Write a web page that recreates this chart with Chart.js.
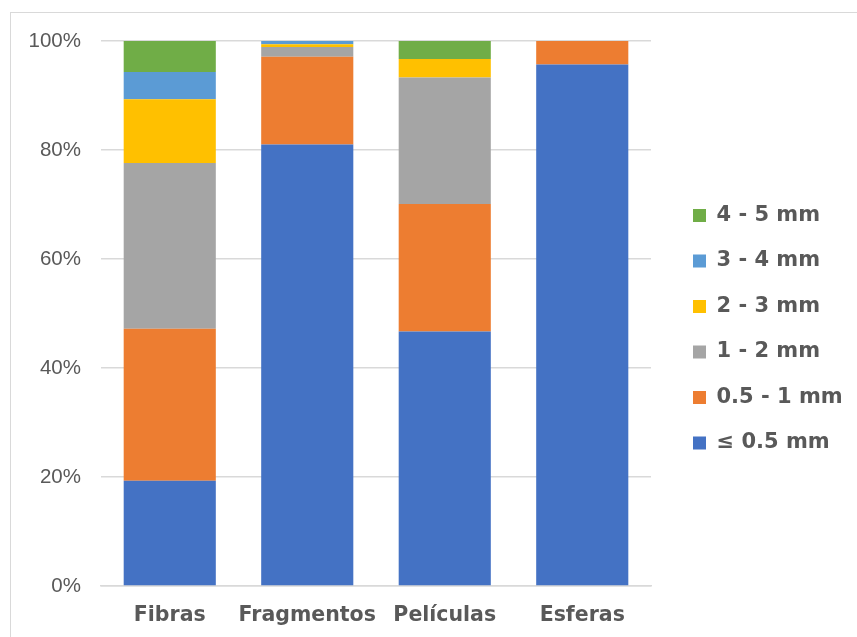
<!DOCTYPE html>
<html>
<head>
<meta charset="utf-8">
<script src="https://cdn.jsdelivr.net/npm/chart.js@4/dist/chart.umd.min.js"></script>
<style>
  html, body { margin: 0; padding: 0; background: #ffffff; overflow: hidden; }
  #wrap { position: relative; width: 857px; height: 637px; }
  #frame { position: absolute; left: 10px; top: 12px; width: 900px; height: 700px; border: 1px solid #d9d9d9; box-sizing: border-box; }
  #c { position: absolute; left: 0; top: 0; }
</style>
</head>
<body>
<div id="wrap">
  <div id="frame"></div>
  <canvas id="c" width="857" height="637"></canvas>
</div>
<script>
// Particle types (x axis)
const categories = ['Fibras', 'Fragmentos', 'Películas', 'Esferas'];

// Share of each size class per particle type, in %
const sizeUpTo05 = [19.3, 81.0, 46.7, 95.7];
const size05to1  = [27.9, 16.1, 23.4, 4.3];
const size1to2   = [30.4, 1.8, 23.2, 0];
const size2to3   = [11.7, 0.5, 3.4, 0];
const size3to4   = [5.0, 0.6, 0, 0];
const size4to5   = [5.7, 0, 3.3, 0];

const seriesLabels = ['≤ 0.5 mm', '0.5 - 1 mm', '1 - 2 mm', '2 - 3 mm', '3 - 4 mm', '4 - 5 mm'];
const seriesColors = ['#4472C4', '#ED7D31', '#A5A5A5', '#FFC000', '#5B9BD5', '#70AD47'];
const seriesValues = [sizeUpTo05, size05to1, size1to2, size2to3, size3to4, size4to5];

// Y axis ticks
const yTicks = [0, 20, 40, 60, 80, 100];

const textColor = '#595959';
const gridColor = '#d9d9d9';

const datasets = seriesValues.map((vals, i) => ({
  label: seriesLabels[i],
  data: vals,
  backgroundColor: seriesColors[i],
  borderWidth: 0,
  categoryPercentage: 1.0,
  barPercentage: 0.67
}));

// Invisible axis used only to reserve space
const spacer = (size) => ({
  type: 'linear',
  display: true,
  grid: { display: false, drawTicks: false },
  border: { display: false },
  ticks: { display: false },
  afterFit: (s) => { if (s.isHorizontal()) s.height = size; else s.width = size; }
});

const chart = new Chart(document.getElementById('c'), {
  type: 'bar',
  data: { labels: categories, datasets },
  options: {
    responsive: false,
    animation: false,
    devicePixelRatio: 1,
    layout: { padding: { top: 21.5, left: 0, right: 0, bottom: 0 } },
    plugins: {
      tooltip: { enabled: false },
      legend: {
        position: 'right',
        reverse: true,
        labels: {
          color: textColor,
          boxWidth: 13,
          boxHeight: 13,
          padding: 24.5,
          font: { family: '"DejaVu Sans", sans-serif', size: 21, weight: 'bold' }
        }
      }
    },
    scales: {
      x: {
        stacked: true,
        grid: { display: false, drawTicks: false },
        border: { display: true, color: gridColor, width: 1.5 },
        ticks: {
          color: textColor,
          padding: 17,
          autoSkip: false,
          maxRotation: 0,
          minRotation: 0,
          font: { family: '"DejaVu Sans", sans-serif', size: 20.5, weight: 'bold' }
        },
        afterFit: (s) => { s.height = 51; }
      },
      y: {
        stacked: true,
        min: 0,
        max: 100,
        afterBuildTicks: (s) => { s.ticks = yTicks.map(v => ({ value: v })); },
        grid: { color: gridColor, lineWidth: 1.5, drawTicks: false },
        border: { display: false },
        ticks: {
          color: textColor,
          padding: 20,
          font: { family: '"Liberation Sans", Arial, sans-serif', size: 20.5 },
          callback: (v) => v + '%'
        },
        afterFit: (s) => { s.width = 101; }
      },
      gapRight: Object.assign({ position: 'right' }, spacer(17.5)),
      gapTop: Object.assign({ position: 'top' }, spacer(19.5))
    }
  }
});

// Fixed legend column width so the plot area keeps its right edge
const legendFit = chart.legend.fit;
chart.legend.fit = function () {
  legendFit.call(this);
  this.width = 188.5;
};
chart.update();
</script>
</body>
</html>
